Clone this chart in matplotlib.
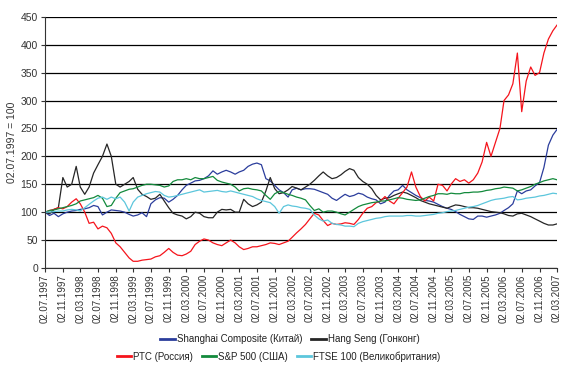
import numpy as np
import pandas as pd
import matplotlib.pyplot as plt
import matplotlib.dates as mdates

plt.rcParams['font.family'] = ['Liberation Sans', 'DejaVu Sans']

# monthly points, 02.07.1997 .. 02.03.2007 (02.07.1997 = 100)
dates = pd.date_range('1997-07-01', '2007-03-01', freq='MS') + pd.Timedelta(days=1)

shanghai = [100, 94, 98, 92, 97, 100, 102, 103, 105, 106, 108, 112, 110, 95, 100, 104, 103, 102, 100, 96,
            93, 95, 99, 92, 115, 122, 126, 125, 118, 123, 130, 140, 148, 152, 156, 157, 160, 165, 174, 168,
            172, 175, 172, 168, 172, 175, 182, 186, 188, 185, 160, 156, 148, 140, 135, 127, 140, 143, 140, 142,
            142, 141, 138, 135, 132, 125, 121, 127, 132, 128, 130, 134, 132, 127, 124, 122, 115, 118, 130, 138,
            140, 148, 140, 135, 130, 126, 121, 120, 118, 114, 110, 107, 105, 101, 96, 92, 88, 87, 93, 93,
            91, 93, 95, 98, 103, 108, 115, 138, 133, 138, 140, 147, 153, 180, 220, 238, 248]
hangseng = [100, 97, 105, 108, 162, 145, 150, 182, 145, 132, 145, 170, 185, 200, 222, 200, 150, 145, 150, 155,
            162, 141, 132, 128, 123, 125, 132, 120, 108, 98, 95, 93, 88, 92, 100, 98, 92, 90, 90, 100,
            105, 104, 105, 100, 100, 123, 115, 110, 113, 118, 138, 162, 142, 133, 135, 140, 146, 143, 140, 145,
            150, 157, 165, 172, 165, 160, 162, 167, 173, 178, 175, 162, 155, 150, 142, 130, 122, 125, 126, 130,
            133, 136, 134, 130, 126, 121, 118, 115, 113, 111, 109, 107, 110, 113, 112, 110, 108, 108, 107, 105,
            103, 101, 100, 99, 97, 94, 93, 97, 98, 95, 92, 88, 84, 80, 77, 77, 79]
rts = [100, 103, 105, 108, 106, 110, 118, 124, 115, 100, 80, 82, 70, 75, 72, 62, 45, 38, 28, 18,
       12, 12, 14, 15, 16, 20, 22, 28, 35, 28, 23, 22, 25, 30, 42, 48, 52, 50, 45, 42,
       40, 45, 50, 45, 38, 33, 35, 38, 38, 40, 42, 45, 44, 42, 45, 48, 55, 63, 70, 78,
       88, 98, 95, 85, 76, 80, 78, 79, 81, 80, 78, 87, 98, 107, 110, 117, 120, 128, 120, 115,
       125, 135, 145, 172, 145, 128, 120, 127, 120, 150, 148, 138, 150, 160, 155, 158, 152, 158, 170, 190,
       225, 200, 225, 250, 300, 310, 330, 385, 280, 335, 360, 345, 350, 385, 410, 425, 435]
sp500 = [100, 103, 104, 106, 108, 110, 112, 115, 120, 122, 124, 126, 130, 125, 110, 112, 125, 135, 138, 141,
         142, 145, 148, 150, 150, 149, 148, 145, 147, 155, 158, 158, 160, 158, 162, 160, 160, 162, 164, 157,
         154, 152, 150, 145, 138, 142, 143, 141, 140, 138, 130, 123, 133, 137, 135, 132, 130, 127, 125, 122,
         112, 103, 106, 100, 102, 102, 100, 97, 95, 100, 105, 110, 113, 115, 117, 118, 120, 120, 122, 124,
         126, 125, 123, 122, 121, 122, 125, 128, 130, 133, 133, 132, 134, 133, 133, 135, 135, 136, 136, 137,
         139, 140, 142, 143, 145, 144, 143, 138, 140, 143, 146, 150, 153, 156, 158, 160, 158]
ftse = [100, 100, 101, 102, 102, 104, 105, 104, 102, 108, 114, 120, 125, 127, 123, 127, 124, 127, 118, 102,
        118, 127, 130, 133, 135, 137, 136, 130, 127, 128, 130, 132, 134, 136, 138, 140, 136, 137, 138, 139,
        137, 136, 138, 136, 134, 132, 130, 128, 124, 121, 119, 117, 110, 98, 110, 113, 111, 110, 108, 107,
        105, 95, 88, 84, 86, 80, 78, 77, 75, 75, 74, 80, 83, 85, 87, 89, 90, 92, 93, 93,
        93, 93, 94, 94, 93, 93, 94, 95, 96, 98, 99, 101, 102, 103, 105, 107, 109, 110, 112, 115,
        118, 121, 123, 124, 125, 127, 128, 122, 123, 125, 126, 127, 129, 130, 132, 134, 133]

series = [
    ('Shanghai Composite (Китай)', shanghai, '#2b3d9c'),
    ('Hang Seng (Гонконг)', hangseng, '#262626'),
    ('РТС (Россия)', rts, '#f5141c'),
    ('S&P 500 (США)', sp500, '#138a3c'),
    ('FTSE 100 (Великобритания)', ftse, '#5cc6dc'),
]

fig = plt.figure(figsize=(5.72, 3.70), dpi=100)
ax = fig.add_axes([0.0787, 0.2757, 0.895, 0.679])

lines = []
for name, vals, col in series:
    ln, = ax.plot(dates, vals, color=col, lw=0.9, label=name)
    lines.append(ln)

ax.set_ylim(0, 450)
ax.set_yticks(np.arange(0, 451, 50))
ax.yaxis.grid(True, color='black', lw=0.9)
ax.set_axisbelow(True)
ax.set_xlim(dates[0], dates[-1])
ax.set_xticks(dates[::4])
ax.xaxis.set_major_formatter(mdates.DateFormatter('%d.%m.%Y'))
for lab in ax.get_xticklabels():
    lab.set_rotation(90)
ax.tick_params(axis='x', labelsize=7, direction='out', length=3, pad=1.5, colors='#333333')
ax.tick_params(axis='y', labelsize=7.5, direction='out', length=3, pad=2, colors='#333333')
for s in ['top', 'right']:
    ax.spines[s].set_visible(False)
ax.spines['left'].set_color('#333333')
ax.spines['bottom'].set_color('#333333')
ax.set_ylabel('02.07.1997 = 100', fontsize=7.5, color='#333333', labelpad=3)

kw = dict(loc='center', frameon=False, fontsize=7, handlelength=1.5,
          handletextpad=0.2, columnspacing=0.9, borderaxespad=0)
fig.legend(handles=lines[:2], ncol=2, bbox_to_anchor=(0.507, 0.083), **kw)
fig.legend(handles=lines[2:], ncol=3, bbox_to_anchor=(0.487, 0.037), **kw)
for leg in fig.legends:
    for h in leg.get_lines():
        h.set_linewidth(2)
    for t in leg.get_texts():
        t.set_color('#222222')

fig.savefig('out.png', dpi=100)
